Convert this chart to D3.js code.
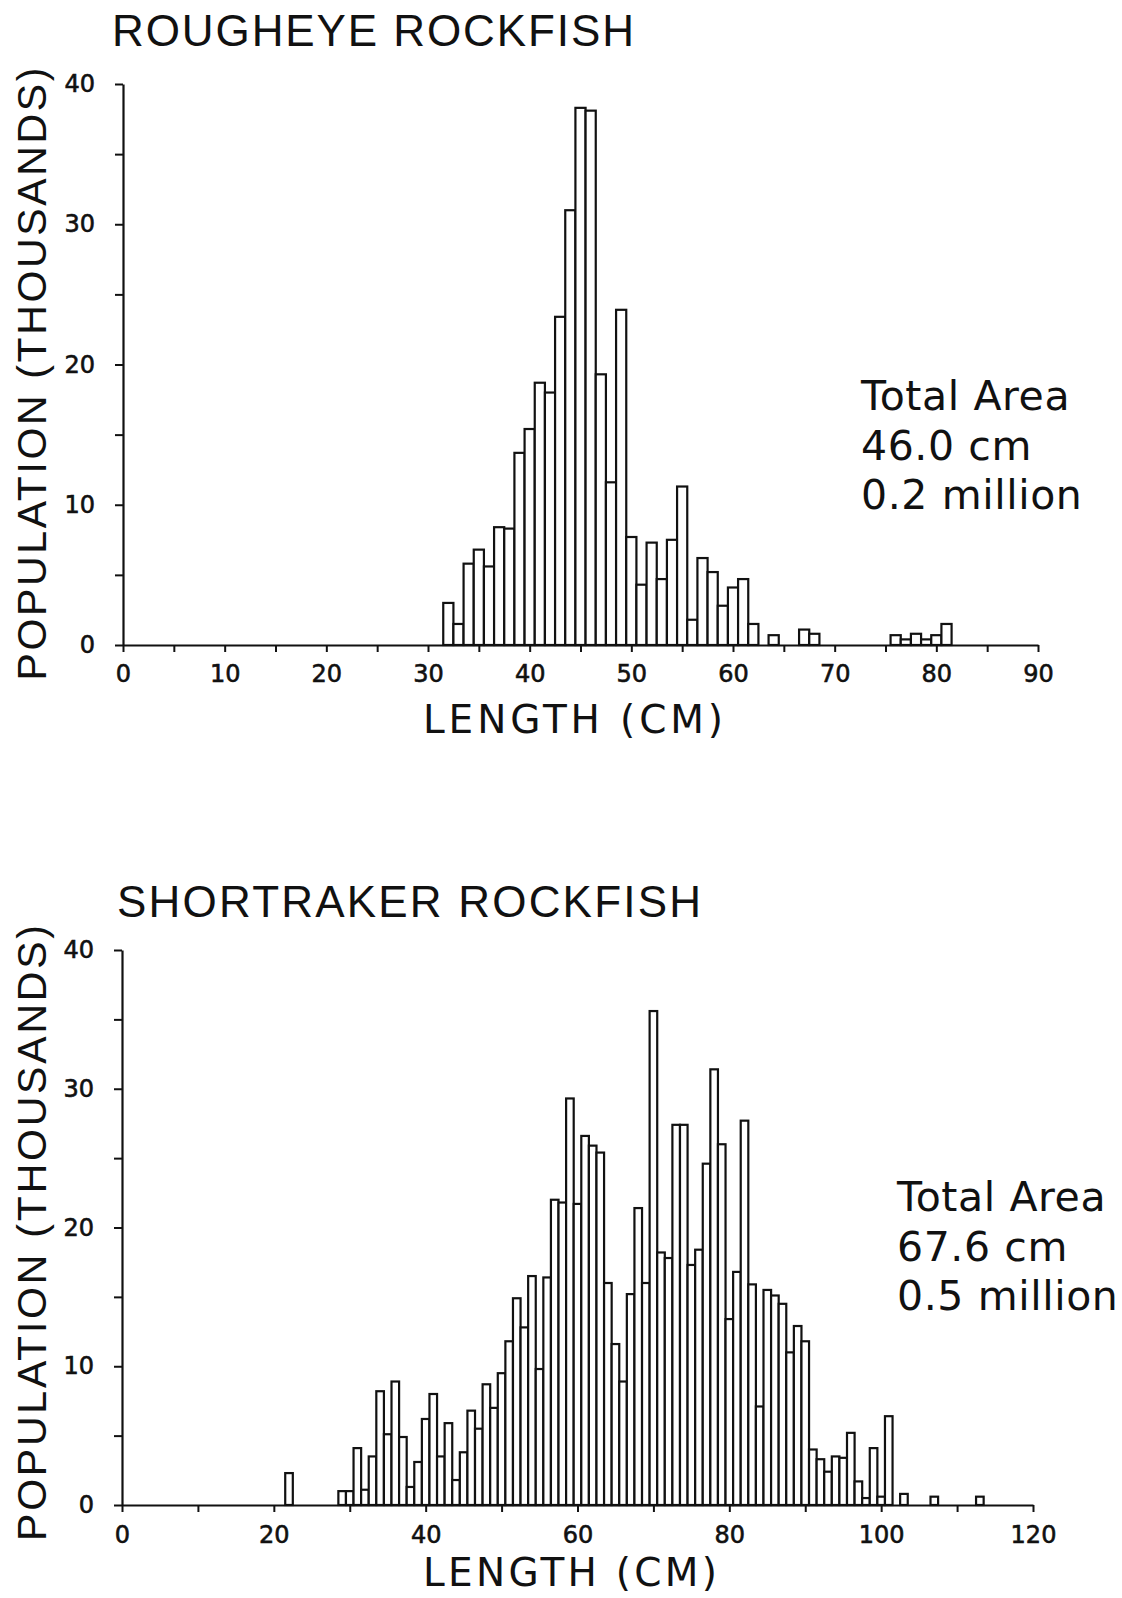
<!DOCTYPE html>
<html>
<head>
<meta charset="utf-8">
<script src="https://cdn.jsdelivr.net/npm/d3@7"></script>
<style>
  body { margin: 0; background: #fff; }
  text { fill: #111; }
</style>
</head>
<body>
<svg id="chart" width="1122" height="1598"></svg>
<script>
// rougheye rockfish: length bins (cm) and population (thousands)
const roughLengths = [32, 33, 34, 35, 36, 37, 38, 39, 40, 41, 42, 43, 44, 45, 46, 47, 48, 49, 50, 51,
  52, 53, 54, 55, 56, 57, 58, 59, 60, 61, 62, 64, 67, 68, 76, 77, 78, 79, 80, 81];
const roughValues = [3.0, 1.5, 5.8, 6.8, 5.6, 8.4, 8.3, 13.7, 15.4, 18.7, 18.0, 23.4, 31.0, 38.3, 38.1, 19.3, 11.6, 23.9, 7.7, 4.3,
  7.3, 4.7, 7.5, 11.3, 1.8, 6.2, 5.2, 2.8, 4.1, 4.7, 1.5, 0.7, 1.1, 0.8, 0.7, 0.4, 0.8, 0.4, 0.7, 1.5];

// shortraker rockfish
const shortLengths = [22, 29, 30, 31, 32, 33, 34, 35, 36, 37, 38, 39, 40, 41, 42, 43, 44, 45, 46, 47,
  48, 49, 50, 51, 52, 53, 54, 55, 56, 57, 58, 59, 60, 61, 62, 63, 64, 65, 66, 67,
  68, 69, 70, 71, 72, 73, 74, 75, 76, 77, 78, 79, 80, 81, 82, 83, 84, 85, 86, 87,
  88, 89, 90, 91, 92, 93, 94, 95, 96, 97, 98, 99, 100, 101, 103, 107, 113];
const shortValues = [2.3, 1.0, 1.0, 4.1, 1.1, 3.5, 8.2, 5.1, 8.9, 4.9, 1.3, 3.1, 6.2, 8.0, 3.5, 5.9, 1.8, 3.8, 6.8, 5.5,
  8.7, 7.0, 9.5, 11.8, 14.9, 12.8, 16.5, 9.8, 16.4, 22.0, 21.8, 29.3, 21.7, 26.6, 25.9, 25.4, 16.0, 11.6, 8.9, 15.2,
  21.4, 16.0, 35.6, 18.2, 17.8, 27.4, 27.4, 17.3, 18.4, 24.6, 31.4, 26.0, 13.4, 16.8, 27.7, 15.9, 7.1, 15.5, 15.1, 14.5,
  11.0, 12.9, 11.8, 4.0, 3.3, 2.4, 3.5, 3.4, 5.2, 1.7, 0.5, 4.1, 0.6, 6.4, 0.8, 0.6, 0.6];

const yTicks = [0, 5, 10, 15, 20, 25, 30, 35, 40];
const yLabels = [0, 10, 20, 30, 40];
const roughXTicks = [0, 5, 10, 15, 20, 25, 30, 35, 40, 45, 50, 55, 60, 65, 70, 75, 80, 85, 90];
const roughXLabels = [0, 10, 20, 30, 40, 50, 60, 70, 80, 90];
const shortXTicks = [0, 10, 20, 30, 40, 50, 60, 70, 80, 90, 100, 110, 120];
const shortXLabels = [0, 20, 40, 60, 80, 100, 120];

const roughNote = ["Total Area", "46.0 cm", "0.2 million"];
const shortNote = ["Total Area", "67.6 cm", "0.5 million"];

const svg = d3.select('#chart');
const labelFont = "'Liberation Sans', 'DejaVu Sans', sans-serif";
const tickFont = "'DejaVu Sans', sans-serif";

function drawPanel(p) {
  const g = svg.append('g');
  const x = d3.scaleLinear().domain([0, p.xMax]).range([p.left, p.right]);
  const y = d3.scaleLinear().domain([0, 40]).range([p.bottom, p.top]);

  // bars, centred on each whole cm
  g.selectAll('rect')
    .data(p.lengths.map((d, i) => ({ len: d, val: p.values[i] })))
    .join('rect')
    .attr('x', d => x(d.len - 0.5))
    .attr('y', d => y(d.val))
    .attr('width', d => x(d.len + 0.5) - x(d.len - 0.5))
    .attr('height', d => y(0) - y(d.val))
    .attr('fill', '#fff')
    .attr('stroke', '#111')
    .attr('stroke-width', 2.2);

  const axisB = d3.axisBottom(x)
    .tickValues(p.xTicks)
    .tickSize(7)
    .tickSizeOuter(0)
    .tickPadding(p.xPad)
    .tickFormat(d => p.xLabels.includes(d) ? d : '');
  const gx = g.append('g').attr('transform', `translate(0,${p.bottom})`).call(axisB);

  const axisL = d3.axisLeft(y)
    .tickValues(yTicks)
    .tickSize(8)
    .tickSizeOuter(0)
    .tickPadding(20)
    .tickFormat(d => yLabels.includes(d) ? d : '');
  const gy = g.append('g').attr('transform', `translate(${p.left},0)`).call(axisL);

  [gx, gy].forEach(a => {
    a.select('.domain').attr('stroke', '#111').attr('stroke-width', 2.2);
    a.selectAll('.tick line').attr('stroke', '#111').attr('stroke-width', 2);
    a.selectAll('.tick text')
      .attr('font-family', tickFont)
      .attr('font-size', 24)
      .attr('stroke', '#111')
      .attr('stroke-width', 0.6)
      .attr('fill', '#111');
  });

  // title
  g.append('text')
    .attr('x', p.titleX).attr('y', p.titleY)
    .attr('font-family', labelFont).attr('font-size', 44)
    .attr('textLength', p.titleW).attr('lengthAdjust', 'spacing')
    .text(p.title);

  // y axis label
  g.append('text')
    .attr('transform', `translate(46,${p.yLabelC}) rotate(-90)`)
    .attr('text-anchor', 'middle')
    .attr('font-family', labelFont).attr('font-size', 41)
    .attr('textLength', p.yLabelW).attr('lengthAdjust', 'spacing')
    .text('POPULATION (THOUSANDS)');

  // x axis label
  g.append('text')
    .attr('x', 423).attr('y', p.xLabelY)
    .attr('font-family', "'DejaVu Sans', sans-serif").attr('font-size', 39)
    .attr('textLength', p.xLabelW).attr('lengthAdjust', 'spacing')
    .text('LENGTH (CM)');

  // note
  g.append('g').selectAll('text')
    .data(p.note)
    .join('text')
    .attr('x', p.noteX)
    .attr('y', (d, i) => p.noteY + i * 49.5)
    .attr('font-family', "'DejaVu Sans', sans-serif")
    .attr('font-size', 41)
    .attr('letter-spacing', 0.6)
    .text(d => d);
}

drawPanel({
  lengths: roughLengths, values: roughValues, xMax: 90,
  left: 123, right: 1038, top: 84, bottom: 645,
  xTicks: roughXTicks, xLabels: roughXLabels, xPad: 13,
  title: 'ROUGHEYE ROCKFISH', titleX: 112, titleY: 46, titleW: 522,
  yLabelC: 374, yLabelW: 613,
  xLabelY: 733, xLabelW: 300,
  note: roughNote, noteX: 861, noteY: 410
});

drawPanel({
  lengths: shortLengths, values: shortValues, xMax: 120,
  left: 122, right: 1033, top: 950, bottom: 1505,
  xTicks: shortXTicks, xLabels: shortXLabels, xPad: 14,
  title: 'SHORTRAKER ROCKFISH', titleX: 117, titleY: 917, titleW: 584,
  yLabelC: 1233, yLabelW: 616,
  xLabelY: 1586, xLabelW: 294,
  note: shortNote, noteX: 897, noteY: 1211
});
</script>
</body>
</html>
